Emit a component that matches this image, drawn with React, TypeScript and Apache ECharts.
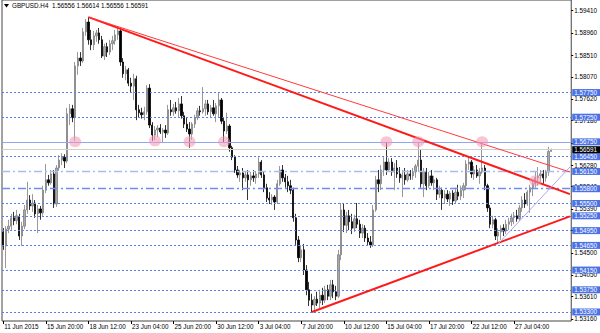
import React, { useEffect, useRef } from 'react';
import * as echarts from 'echarts';

// GBPUSD H4 candles: [open, high, low, close]
const candles: number[][] = [
  [1.5492, 1.5500, 1.5456, 1.5464], [1.5464, 1.5504, 1.5419, 1.5498], [1.5498, 1.5517, 1.5490, 1.5504], [1.5504, 1.5529, 1.5496, 1.5521],
  [1.5521, 1.5533, 1.5506, 1.5515], [1.5515, 1.5537, 1.5508, 1.5525], [1.5523, 1.5529, 1.5476, 1.5484], [1.5484, 1.5513, 1.5464, 1.5504],
  [1.5504, 1.5547, 1.5498, 1.5537], [1.5537, 1.5594, 1.5529, 1.5557], [1.5557, 1.5567, 1.5537, 1.5545], [1.5545, 1.5569, 1.5533, 1.5551],
  [1.5551, 1.5557, 1.5521, 1.5529], [1.5529, 1.5547, 1.5490, 1.5539], [1.5539, 1.5545, 1.5517, 1.5531], [1.5531, 1.5586, 1.5525, 1.5577],
  [1.5577, 1.5630, 1.5571, 1.5598], [1.5598, 1.5608, 1.5586, 1.5592], [1.5592, 1.5618, 1.5588, 1.5610], [1.5610, 1.5618, 1.5541, 1.5549],
  [1.5549, 1.5628, 1.5543, 1.5622], [1.5622, 1.5648, 1.5616, 1.5638], [1.5638, 1.5652, 1.5628, 1.5644], [1.5644, 1.5650, 1.5622, 1.5636],
  [1.5636, 1.5744, 1.5632, 1.5732], [1.5732, 1.5752, 1.5709, 1.5742], [1.5742, 1.5750, 1.5715, 1.5724], [1.5724, 1.5837, 1.5677, 1.5829],
  [1.5829, 1.5857, 1.5811, 1.5845], [1.5845, 1.5857, 1.5829, 1.5839], [1.5839, 1.5906, 1.5835, 1.5898], [1.5898, 1.5924, 1.5890, 1.5918],
  [1.5918, 1.5928, 1.5872, 1.5882], [1.5882, 1.5902, 1.5861, 1.5872], [1.5872, 1.5900, 1.5861, 1.5890], [1.5890, 1.5902, 1.5878, 1.5896],
  [1.5896, 1.5906, 1.5874, 1.5882], [1.5882, 1.5890, 1.5845, 1.5849], [1.5849, 1.5874, 1.5841, 1.5868], [1.5868, 1.5876, 1.5847, 1.5857],
  [1.5857, 1.5882, 1.5851, 1.5874], [1.5874, 1.5890, 1.5861, 1.5880], [1.5880, 1.5902, 1.5872, 1.5892], [1.5892, 1.5908, 1.5882, 1.5900],
  [1.5900, 1.5904, 1.5829, 1.5837], [1.5837, 1.5845, 1.5805, 1.5813], [1.5813, 1.5829, 1.5800, 1.5821], [1.5821, 1.5825, 1.5788, 1.5794],
  [1.5794, 1.5805, 1.5776, 1.5788], [1.5788, 1.5813, 1.5760, 1.5803], [1.5803, 1.5809, 1.5719, 1.5740], [1.5740, 1.5750, 1.5724, 1.5734],
  [1.5734, 1.5744, 1.5722, 1.5730], [1.5730, 1.5746, 1.5719, 1.5736], [1.5736, 1.5790, 1.5730, 1.5784], [1.5784, 1.5792, 1.5703, 1.5709],
  [1.5709, 1.5715, 1.5677, 1.5689], [1.5689, 1.5707, 1.5679, 1.5699], [1.5699, 1.5709, 1.5685, 1.5703], [1.5703, 1.5711, 1.5691, 1.5695],
  [1.5695, 1.5703, 1.5673, 1.5699], [1.5699, 1.5709, 1.5683, 1.5693], [1.5693, 1.5750, 1.5689, 1.5740], [1.5740, 1.5760, 1.5728, 1.5736],
  [1.5736, 1.5752, 1.5728, 1.5744], [1.5744, 1.5756, 1.5732, 1.5738], [1.5738, 1.5764, 1.5724, 1.5752], [1.5752, 1.5768, 1.5722, 1.5728],
  [1.5728, 1.5736, 1.5703, 1.5711], [1.5711, 1.5724, 1.5695, 1.5701], [1.5701, 1.5715, 1.5663, 1.5691], [1.5691, 1.5715, 1.5679, 1.5711],
  [1.5711, 1.5730, 1.5703, 1.5724], [1.5724, 1.5744, 1.5719, 1.5738], [1.5738, 1.5748, 1.5728, 1.5736], [1.5736, 1.5786, 1.5732, 1.5742],
  [1.5742, 1.5760, 1.5728, 1.5752], [1.5752, 1.5760, 1.5730, 1.5736], [1.5736, 1.5750, 1.5724, 1.5744], [1.5744, 1.5760, 1.5728, 1.5732],
  [1.5732, 1.5754, 1.5715, 1.5748], [1.5748, 1.5776, 1.5724, 1.5760], [1.5760, 1.5764, 1.5711, 1.5717], [1.5717, 1.5724, 1.5673, 1.5697],
  [1.5697, 1.5734, 1.5691, 1.5707], [1.5707, 1.5711, 1.5655, 1.5663], [1.5663, 1.5667, 1.5638, 1.5644], [1.5644, 1.5648, 1.5612, 1.5618],
  [1.5618, 1.5626, 1.5602, 1.5608], [1.5608, 1.5618, 1.5594, 1.5612], [1.5612, 1.5622, 1.5577, 1.5602], [1.5602, 1.5614, 1.5594, 1.5608],
  [1.5608, 1.5618, 1.5557, 1.5598], [1.5598, 1.5614, 1.5586, 1.5606], [1.5606, 1.5618, 1.5594, 1.5602], [1.5602, 1.5616, 1.5590, 1.5610],
  [1.5610, 1.5644, 1.5602, 1.5634], [1.5634, 1.5638, 1.5602, 1.5608], [1.5608, 1.5614, 1.5573, 1.5582], [1.5582, 1.5590, 1.5553, 1.5561],
  [1.5561, 1.5573, 1.5549, 1.5557], [1.5557, 1.5569, 1.5547, 1.5563], [1.5563, 1.5567, 1.5537, 1.5553], [1.5553, 1.5598, 1.5549, 1.5590],
  [1.5590, 1.5626, 1.5586, 1.5618], [1.5618, 1.5628, 1.5594, 1.5602], [1.5602, 1.5610, 1.5582, 1.5594], [1.5594, 1.5606, 1.5573, 1.5586],
  [1.5586, 1.5598, 1.5569, 1.5577], [1.5577, 1.5582, 1.5513, 1.5521], [1.5521, 1.5529, 1.5466, 1.5476], [1.5476, 1.5484, 1.5431, 1.5440],
  [1.5440, 1.5466, 1.5431, 1.5456], [1.5456, 1.5468, 1.5405, 1.5415], [1.5415, 1.5425, 1.5364, 1.5375], [1.5375, 1.5391, 1.5342, 1.5354],
  [1.5354, 1.5367, 1.5330, 1.5344], [1.5344, 1.5362, 1.5334, 1.5356], [1.5356, 1.5371, 1.5342, 1.5348], [1.5348, 1.5375, 1.5338, 1.5364],
  [1.5364, 1.5379, 1.5344, 1.5354], [1.5354, 1.5383, 1.5348, 1.5375], [1.5375, 1.5385, 1.5354, 1.5362], [1.5362, 1.5395, 1.5354, 1.5385],
  [1.5385, 1.5395, 1.5358, 1.5371], [1.5371, 1.5383, 1.5354, 1.5362], [1.5362, 1.5456, 1.5358, 1.5446], [1.5446, 1.5551, 1.5435, 1.5537],
  [1.5537, 1.5551, 1.5492, 1.5506], [1.5506, 1.5533, 1.5490, 1.5525], [1.5525, 1.5537, 1.5496, 1.5513], [1.5513, 1.5529, 1.5488, 1.5500],
  [1.5500, 1.5527, 1.5492, 1.5519], [1.5519, 1.5551, 1.5500, 1.5508], [1.5508, 1.5517, 1.5480, 1.5490], [1.5490, 1.5508, 1.5480, 1.5500],
  [1.5500, 1.5506, 1.5472, 1.5480], [1.5480, 1.5490, 1.5466, 1.5472], [1.5472, 1.5484, 1.5460, 1.5466], [1.5466, 1.5547, 1.5462, 1.5537],
  [1.5537, 1.5606, 1.5533, 1.5598], [1.5598, 1.5618, 1.5573, 1.5590], [1.5590, 1.5628, 1.5577, 1.5618], [1.5618, 1.5644, 1.5606, 1.5634],
  [1.5634, 1.5675, 1.5608, 1.5618], [1.5618, 1.5642, 1.5614, 1.5634], [1.5634, 1.5642, 1.5606, 1.5614], [1.5614, 1.5632, 1.5577, 1.5622],
  [1.5622, 1.5638, 1.5602, 1.5610], [1.5610, 1.5624, 1.5592, 1.5602], [1.5602, 1.5618, 1.5563, 1.5608], [1.5608, 1.5622, 1.5588, 1.5598],
  [1.5598, 1.5618, 1.5594, 1.5610], [1.5610, 1.5618, 1.5598, 1.5606], [1.5606, 1.5622, 1.5598, 1.5614], [1.5614, 1.5630, 1.5602, 1.5626],
  [1.5626, 1.5673, 1.5614, 1.5638], [1.5638, 1.5659, 1.5582, 1.5590], [1.5590, 1.5622, 1.5563, 1.5614], [1.5614, 1.5622, 1.5577, 1.5586],
  [1.5586, 1.5614, 1.5582, 1.5606], [1.5606, 1.5618, 1.5586, 1.5592], [1.5592, 1.5606, 1.5577, 1.5598], [1.5598, 1.5602, 1.5557, 1.5569],
  [1.5569, 1.5586, 1.5561, 1.5577], [1.5577, 1.5582, 1.5537, 1.5561], [1.5561, 1.5577, 1.5549, 1.5569], [1.5569, 1.5577, 1.5553, 1.5559],
  [1.5559, 1.5575, 1.5545, 1.5571], [1.5571, 1.5577, 1.5547, 1.5555], [1.5555, 1.5582, 1.5549, 1.5573], [1.5573, 1.5588, 1.5557, 1.5565],
  [1.5565, 1.5586, 1.5557, 1.5577], [1.5577, 1.5592, 1.5561, 1.5586], [1.5586, 1.5638, 1.5577, 1.5630], [1.5630, 1.5644, 1.5618, 1.5634],
  [1.5634, 1.5638, 1.5602, 1.5610], [1.5610, 1.5626, 1.5598, 1.5618], [1.5618, 1.5628, 1.5602, 1.5606], [1.5606, 1.5622, 1.5590, 1.5614],
  [1.5614, 1.5675, 1.5610, 1.5622], [1.5622, 1.5628, 1.5577, 1.5586], [1.5586, 1.5590, 1.5533, 1.5541], [1.5541, 1.5547, 1.5500, 1.5508],
  [1.5508, 1.5525, 1.5500, 1.5517], [1.5517, 1.5521, 1.5476, 1.5484], [1.5484, 1.5500, 1.5470, 1.5492], [1.5492, 1.5506, 1.5476, 1.5500],
  [1.5500, 1.5508, 1.5484, 1.5494], [1.5494, 1.5517, 1.5488, 1.5508], [1.5508, 1.5521, 1.5496, 1.5513], [1.5513, 1.5529, 1.5504, 1.5521],
  [1.5521, 1.5533, 1.5508, 1.5525], [1.5525, 1.5537, 1.5513, 1.5519], [1.5519, 1.5547, 1.5515, 1.5541], [1.5541, 1.5565, 1.5533, 1.5557],
  [1.5557, 1.5571, 1.5541, 1.5549], [1.5549, 1.5577, 1.5545, 1.5573], [1.5573, 1.5588, 1.5531, 1.5582], [1.5582, 1.5598, 1.5565, 1.5590],
  [1.5590, 1.5614, 1.5582, 1.5602], [1.5602, 1.5624, 1.5586, 1.5606], [1.5606, 1.5618, 1.5594, 1.5610], [1.5610, 1.5618, 1.5590, 1.5602],
  [1.5602, 1.5618, 1.5594, 1.5614], [1.5614, 1.5665, 1.5606, 1.56556], [1.56556, 1.56614, 1.56556, 1.56591],
];

const futureSlots = 7;
const xTickIndex = [0, 16, 32, 48, 64, 80, 96, 112, 128, 144, 160, 176, 192];
const xTickLabels = [
  '11 Jun 2015', '15 Jun 20:00', '18 Jun 12:00', '23 Jun 04:00', '25 Jun 20:00', '30 Jun 12:00', '3 Jul 04:00',
  '7 Jul 20:00', '10 Jul 12:00', '15 Jul 04:00', '17 Jul 20:00', '22 Jul 12:00', '27 Jul 04:00',
];
const priceScaleLabels = [
  1.5941, 1.5896, 1.5851, 1.5807, 1.5762, 1.5718, 1.5673, 1.5628, 1.5584, 1.5539, 1.5495, 1.545, 1.5405, 1.5361, 1.5316,
];
const dottedLevels = [1.5775, 1.5725, 1.5645, 1.555, 1.5525, 1.5495, 1.5465, 1.5415, 1.5375, 1.533];
const dashDotLevels = [
  { value: 1.5615, color: '#a7bcf4' },
  { value: 1.558, color: '#6f8fe8' },
];
const solidLevel = 1.5675;
const bidPrice = 1.56591;
const titleText = 'GBPUSD.H4  1.56556 1.56614 1.56556 1.56591';
// trend lines: [startBar, startPrice] -> [endBar, endPrice]
const trendLines = [
  { from: [32, 1.5928], to: [213, 1.5569], color: '#ff1a1a', width: 2 },
  { from: [32, 1.5928], to: [213, 1.5614], color: '#ff3b3b', width: 1 },
  { from: [116, 1.533], to: [213, 1.5524], color: '#ff1a1a', width: 2 },
  { from: [186, 1.5468], to: [213, 1.5624], color: '#b3a4ee', width: 1 },
];
// touch points (pink circles): [bar, price]
const touchPoints = [
  [27, 1.5675], [57, 1.5677], [70, 1.5675], [83, 1.5675], [144, 1.5675], [156, 1.5675], [180, 1.5675], [200, 1.5596],
];

const FONT = 'Liberation Sans, Arial, sans-serif';
const FS = 6.3;
const MONTHS = ['Jan', 'Feb', 'Mar', 'Apr', 'May', 'Jun', 'Jul', 'Aug', 'Sep', 'Oct', 'Nov', 'Dec'];

function buildCategories(n: number): string[] {
  const out: string[] = [];
  const d = new Date(Date.UTC(2015, 5, 11, 4));
  while (out.length < n) {
    const wd = d.getUTCDay();
    if (wd !== 0 && wd !== 6) {
      const hh = String(d.getUTCHours()).padStart(2, '0');
      out.push(`${d.getUTCDate()} ${MONTHS[d.getUTCMonth()]} ${d.getUTCFullYear()} ${hh}:00`);
    }
    d.setUTCHours(d.getUTCHours() + 4);
  }
  return out;
}

export default function App() {
  const ref = useRef<HTMLDivElement>(null);

  useEffect(() => {
    if (!ref.current) return;
    const chart = echarts.init(ref.current, undefined, { renderer: 'svg' });
    const categories = buildCategories(candles.length + futureSlots);
    const seriesData = candles.map(([o, h, l, c]) => [o, c, l, h]);

    const levelLabel = (v: number, bg: string) => ({
      show: true,
      position: 'end',
      distance: 1,
      formatter: v.toFixed(5),
      backgroundColor: bg,
      color: '#ffffff',
      fontSize: FS,
      fontFamily: FONT,
      padding: [1, 4, 0, 2],
    });

    const markData: any[] = [];
    dottedLevels.forEach((v) => {
      markData.push({
        yAxis: v,
        lineStyle: { color: '#5a7de6', type: [2, 2], width: 1 },
        label: levelLabel(v, '#4a72e4'),
      });
    });
    dashDotLevels.forEach((d) => {
      markData.push({
        yAxis: d.value,
        lineStyle: { color: d.color, type: [8, 3, 2, 3], width: 1.3 },
        label: levelLabel(d.value, '#4a72e4'),
      });
    });
    markData.push({
      yAxis: solidLevel,
      lineStyle: { color: '#8ea7f0', type: 'solid', width: 1 },
      label: levelLabel(solidLevel, '#4a72e4'),
    });
    markData.push({
      yAxis: bidPrice,
      lineStyle: { color: '#cfcfcf', type: 'solid', width: 1 },
      label: levelLabel(bidPrice, '#000000'),
    });
    trendLines.forEach((t) => {
      const style = { color: t.color, type: 'solid', width: t.width };
      markData.push([
        { coord: [categories[t.from[0]], t.from[1]], lineStyle: style, label: { show: false } },
        { coord: [categories[t.to[0]], t.to[1]], lineStyle: style, label: { show: false } },
      ]);
    });

    const option: any = {
      animation: false,
      backgroundColor: '#ffffff',
      textStyle: { fontFamily: FONT },
      grid: {
        left: 2,
        right: 28,
        top: 0,
        bottom: 12,
        show: true,
        borderColor: '#444444',
        borderWidth: 1,
        backgroundColor: '#ffffff',
      },
      xAxis: {
        type: 'category',
        data: categories,
        boundaryGap: true,
        axisLine: { show: false },
        axisTick: {
          show: true,
          alignWithLabel: true,
          interval: (i: number) => xTickIndex.includes(i),
          length: 3,
          lineStyle: { color: '#000000' },
        },
        axisLabel: {
          interval: (i: number) => xTickIndex.includes(i),
          formatter: (_v: string, i: number) => {
            const k = xTickIndex.indexOf(i);
            return k >= 0 ? xTickLabels[k] : '';
          },
          align: 'left',
          margin: 2,
          padding: [0, 0, 0, 1],
          fontSize: FS,
          color: '#000000',
          fontFamily: FONT,
        },
        splitLine: { show: false },
      },
      yAxis: {
        type: 'value',
        position: 'right',
        min: 1.53117,
        max: 1.59627,
        splitLine: { show: false },
        axisLine: { show: false },
        axisTick: {
          show: true,
          customValues: priceScaleLabels,
          length: 2,
          lineStyle: { color: '#000000' },
        },
        axisLabel: {
          customValues: priceScaleLabels,
          formatter: (v: number) => v.toFixed(5),
          fontSize: FS,
          color: '#000000',
          margin: 3,
          fontFamily: FONT,
        },
      },
      graphic: [
        {
          type: 'polygon',
          shape: { points: [[4, 4], [9, 4], [6.5, 7.5]] },
          style: { fill: '#000000' },
        },
        {
          type: 'text',
          x: 12,
          y: 2.5,
          style: { text: titleText, fontSize: FS, fontFamily: FONT, fill: '#000000' },
        },
      ],
      series: [
        {
          type: 'candlestick',
          data: seriesData,
          barWidth: 1.8,
          itemStyle: {
            color: '#a9a9a9',
            color0: '#000000',
            borderColor: '#7f7f7f',
            borderColor0: '#000000',
            borderWidth: 0.8,
          },
          markLine: {
            silent: true,
            symbol: ['none', 'none'],
            precision: 5,
            animation: false,
            data: markData,
          },
          markPoint: {
            silent: true,
            symbol: 'circle',
            symbolSize: [12, 11],
            itemStyle: { color: 'rgba(244,150,178,0.55)' },
            label: { show: false },
            data: touchPoints.map(([b, p]) => ({ coord: [categories[b], p] })),
          },
        },
      ],
    };

    chart.setOption(option);
    return () => chart.dispose();
  }, []);

  return (
    <div
      ref={ref}
      style={{ position: 'fixed', left: 0, top: 0, width: 600, height: 333, background: '#ffffff' }}
    />
  );
}
